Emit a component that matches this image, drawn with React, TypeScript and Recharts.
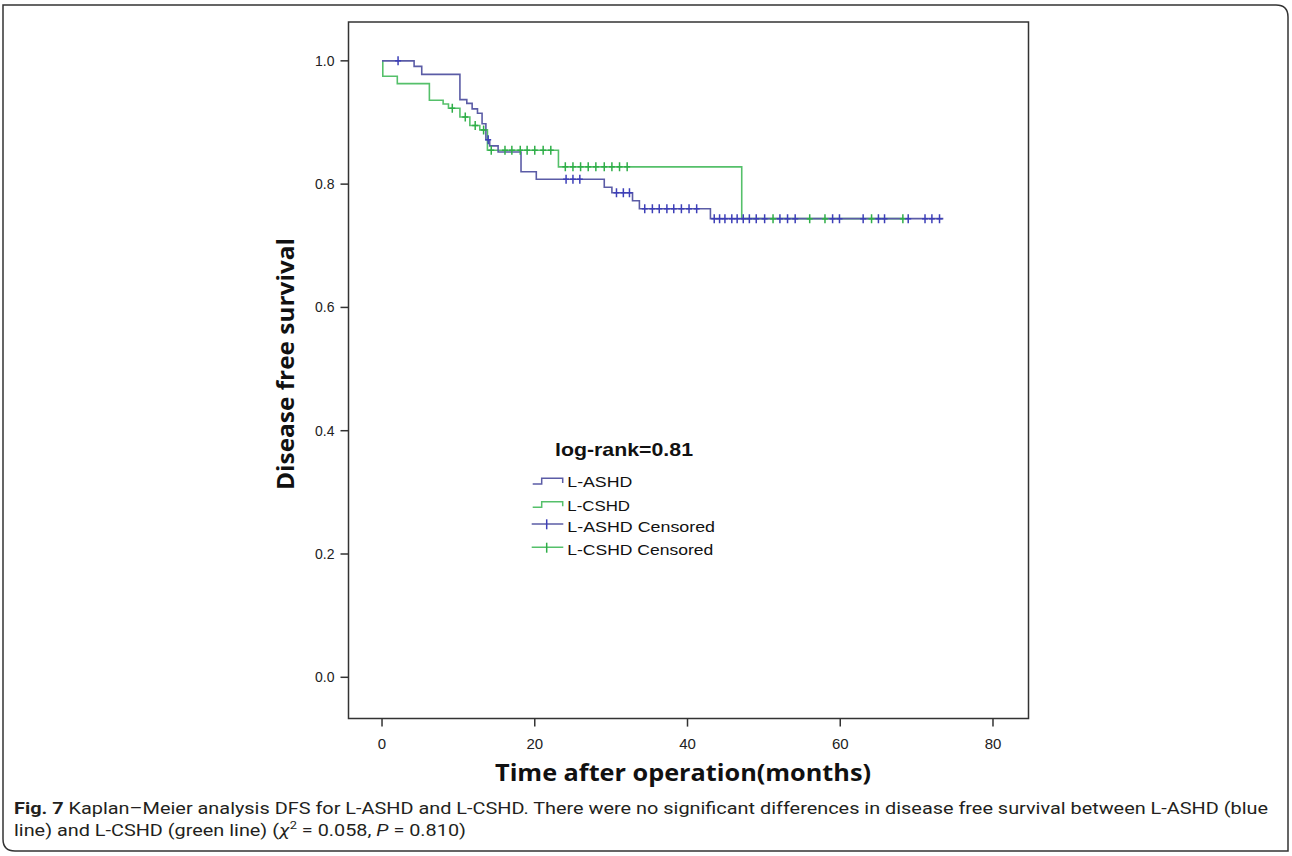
import React from 'react';
import { ComposedChart, Line, Scatter, XAxis, YAxis, ReferenceArea, Legend } from 'recharts';

// L-ASHD (blue) Kaplan–Meier steps
const ashdStepTimes = [0, 4.2, 5.2, 10.2, 11.1, 11.8, 12.5, 13.1, 13.6, 14.1, 15.2, 18.2, 20.2, 29.1, 30.1, 32.8, 33.7, 43.0, 73.5];
const ashdStepSurvival = [1.0, 0.991, 0.978, 0.937, 0.931, 0.922, 0.915, 0.898, 0.872, 0.862, 0.852, 0.82, 0.808, 0.795, 0.786, 0.773, 0.76, 0.744, 0.744];
// L-CSHD (green) Kaplan–Meier steps
const cshdStepTimes = [0, 0.1, 2.0, 6.2, 8.0, 8.7, 10.2, 11.5, 12.8, 13.8, 23.1, 47.1, 68.2];
const cshdStepSurvival = [1.0, 0.975, 0.963, 0.936, 0.93, 0.923, 0.909, 0.895, 0.888, 0.855, 0.828, 0.744, 0.744];
// censored observations (months)
const ashdCensorTimes = [2.1, 13.9, 24.1, 25.0, 25.9, 30.7, 31.6, 32.4, 34.4, 35.4, 36.3, 37.3, 38.2, 39.2, 40.2, 41.2, 43.5, 44.2, 44.9, 45.8, 46.5, 47.3, 48.1, 49.0, 50.1, 52.1, 53.1, 54.1, 59.0, 59.9, 63.0, 65.0, 65.8, 68.9, 71.1, 72.0, 73.0];
const cshdCensorTimes = [9.2, 10.9, 12.2, 13.3, 14.3, 16.1, 17.0, 18.1, 19.0, 20.0, 21.1, 22.1, 24.0, 25.0, 26.0, 27.0, 28.0, 29.1, 30.1, 31.1, 32.1, 51.2, 56.0, 58.0, 64.1, 68.2];

const xTicks = [0, 20, 40, 60, 80];
const yTicks = [0, 0.2, 0.4, 0.6, 0.8, 1.0];
const xDomain: [number, number] = [-4.39, 84.65];
const yDomain: [number, number] = [-0.067, 1.063];

const BLUE_LINE = '#5b5ca6';
const BLUE_MARK = '#3d3fb8';
const GREEN_LINE = '#55c06a';
const GREEN_MARK = '#2fae48';
const FRAME = '#333333';

const survivalAt = (times: number[], surv: number[], t: number) => {
  let v = surv[0];
  for (let i = 0; i < times.length; i++) if (times[i] <= t) v = surv[i];
  return v;
};

const ashdCurve = ashdStepTimes.map((t, i) => ({ t, s: ashdStepSurvival[i] }));
const cshdCurve = cshdStepTimes.map((t, i) => ({ t, s: cshdStepSurvival[i] }));
const ashdCensored = ashdCensorTimes.map((t) => ({ t, s: survivalAt(ashdStepTimes, ashdStepSurvival, t) }));
const cshdCensored = cshdCensorTimes.map((t) => ({ t, s: survivalAt(cshdStepTimes, cshdStepSurvival, t) }));

const makeMark = (color: string) => (props: any) => {
  const { cx, cy } = props;
  if (cx == null || cy == null) return <g />;
  return (
    <g>
      <line x1={cx - 3} x2={cx + 3} y1={cy} y2={cy} stroke={color} strokeWidth={1.5} />
      <line x1={cx} x2={cx} y1={cy - 4.5} y2={cy + 4.5} stroke={color} strokeWidth={1.5} />
    </g>
  );
};

const XTick = (props: any) => {
  const { x, y, payload } = props;
  return (
    <text x={x} y={y} dy={16} textAnchor="middle" fontFamily="'Liberation Sans', Arial, sans-serif" fontSize={15} fill="#222">
      {payload.value}
    </text>
  );
};

const YTick = (props: any) => {
  const { x, y, payload } = props;
  return (
    <text x={x} y={y} dy={5} textAnchor="end" fontFamily="'Liberation Sans', Arial, sans-serif" fontSize={14} fill="#222">
      {Number(payload.value).toFixed(1)}
    </text>
  );
};

const LegendBox = () => (
  <svg width={200} height={125} style={{ display: 'block' }}>
    <text x={30} y={21} fontFamily="'Liberation Sans', Arial, sans-serif" fontWeight="bold" fontSize={19} fill="#111" textLength={138} lengthAdjust="spacingAndGlyphs">log-rank=0.81</text>
    <path d="M 7.7 49 H 16.7 V 43.3 H 37.7 V 48" fill="none" stroke={BLUE_LINE} strokeWidth={1.5} />
    <text x={42.3} y={52.3} fontFamily="'Liberation Sans', Arial, sans-serif" fontSize={15} fill="#111" textLength={65} lengthAdjust="spacingAndGlyphs">L-ASHD</text>
    <path d="M 7.7 72.3 H 16.7 V 66.7 H 37.7 V 71.3" fill="none" stroke={GREEN_LINE} strokeWidth={1.5} />
    <text x={42.3} y={75.7} fontFamily="'Liberation Sans', Arial, sans-serif" fontSize={15} fill="#111" textLength={62.7} lengthAdjust="spacingAndGlyphs">L-CSHD</text>
    <path d="M 6.7 89 H 38.3" fill="none" stroke={BLUE_LINE} strokeWidth={1.5} />
    <path d="M 21.7 84.3 V 94.3" fill="none" stroke={BLUE_MARK} strokeWidth={1.5} />
    <text x={42.3} y={96.7} fontFamily="'Liberation Sans', Arial, sans-serif" fontSize={15} fill="#111" textLength={147.7} lengthAdjust="spacingAndGlyphs">L-ASHD Censored</text>
    <path d="M 6.7 112.3 H 38.3" fill="none" stroke={GREEN_LINE} strokeWidth={1.5} />
    <path d="M 21.7 107.7 V 117.7" fill="none" stroke={GREEN_MARK} strokeWidth={1.5} />
    <text x={42.3} y={120} fontFamily="'Liberation Sans', Arial, sans-serif" fontSize={15} fill="#111" textLength={146} lengthAdjust="spacingAndGlyphs">L-CSHD Censored</text>
  </svg>
);

export default function App() {
  return (
    <div style={{ position: 'absolute', left: 0, top: 0, width: 1292, height: 856, background: '#fff', overflow: 'hidden' }}>
      <div style={{ position: 'absolute', left: 0, top: 0 }}>
        <ComposedChart width={1292} height={856} margin={{ top: 22, right: 263.5, bottom: 57.4, left: 288.5 }}>
          <XAxis
            type="number"
            dataKey="t"
            domain={xDomain}
            ticks={xTicks}
            allowDataOverflow
            axisLine={false}
            tickLine={{ stroke: FRAME, strokeWidth: 1.5 }}
            tickSize={8}
            tickMargin={6}
            height={80}
            tick={<XTick />}
            interval={0}
          />
          <YAxis
            type="number"
            dataKey="s"
            domain={yDomain}
            ticks={yTicks}
            allowDataOverflow
            axisLine={false}
            tickLine={{ stroke: FRAME, strokeWidth: 1.5 }}
            tickSize={8}
            tickMargin={6}
            width={60}
            tick={<YTick />}
            interval={0}
          />
          <ReferenceArea x1={xDomain[0]} x2={xDomain[1]} y1={yDomain[0]} y2={yDomain[1]} fill="none" fillOpacity={0} stroke={FRAME} strokeWidth={1.5} ifOverflow="visible" />
          <Line data={cshdCurve} dataKey="s" type="stepAfter" stroke={GREEN_LINE} strokeWidth={1.6} dot={false} activeDot={false} isAnimationActive={false} legendType="none" />
          <Line data={ashdCurve} dataKey="s" type="stepAfter" stroke={BLUE_LINE} strokeWidth={1.6} dot={false} activeDot={false} isAnimationActive={false} legendType="none" />
          <Scatter data={cshdCensored} dataKey="s" shape={makeMark(GREEN_MARK)} isAnimationActive={false} legendType="none" />
          <Scatter data={ashdCensored} dataKey="s" shape={makeMark(BLUE_MARK)} isAnimationActive={false} legendType="none" />
          <Legend
            layout="vertical"
            align="center"
            verticalAlign="middle"
            wrapperStyle={{ left: 525, top: 435, width: 200, height: 125 }}
            content={() => <LegendBox />}
          />
        </ComposedChart>
      </div>
      <svg width={1292} height={856} style={{ position: 'absolute', left: 0, top: 0, pointerEvents: 'none' }}>
        <path d="M 3 5 H 1276 Q 1288 5 1288 17 V 851 H 15 Q 3 851 3 839 Z" fill="none" stroke="#333" strokeWidth={1.5} />
        <text transform="translate(294,364) rotate(-90)" textAnchor="middle" fontFamily="'Open Sans', 'Liberation Sans', sans-serif" fontWeight="bold" fontSize={23} fill="#111" textLength={252} lengthAdjust="spacingAndGlyphs">
          Disease free survival
        </text>
        <text x={683} y={781} textAnchor="middle" fontFamily="'Open Sans', 'Liberation Sans', sans-serif" fontWeight="bold" fontSize={24} fill="#111" textLength={376} lengthAdjust="spacingAndGlyphs">
          Time after operation(months)
        </text>
        <text x={14} y={814} fontFamily="'Liberation Sans Narrow', 'Roboto', sans-serif" fontSize={17} fill="#231f20" textLength={1254} lengthAdjust="spacingAndGlyphs">
          <tspan fontWeight="bold">Fig. 7</tspan>
          <tspan> Kaplan–Meier analysis DFS for L-ASHD and L-CSHD. There were no significant differences in disease free survival between L-ASHD (blue</tspan>
        </text>
        <text x={14} y={836} fontFamily="'Liberation Sans Narrow', 'Roboto', sans-serif" fontSize={17} fill="#231f20" textLength={452} lengthAdjust="spacingAndGlyphs">
          <tspan>line) and L-CSHD (green line) (</tspan>
          <tspan fontStyle="italic">χ</tspan>
          <tspan fontSize={11} dy={-7}>2</tspan>
          <tspan dy={7}> = 0.058, </tspan>
          <tspan fontStyle="italic">P</tspan>
          <tspan> = 0.810)</tspan>
        </text>
      </svg>
    </div>
  );
}
